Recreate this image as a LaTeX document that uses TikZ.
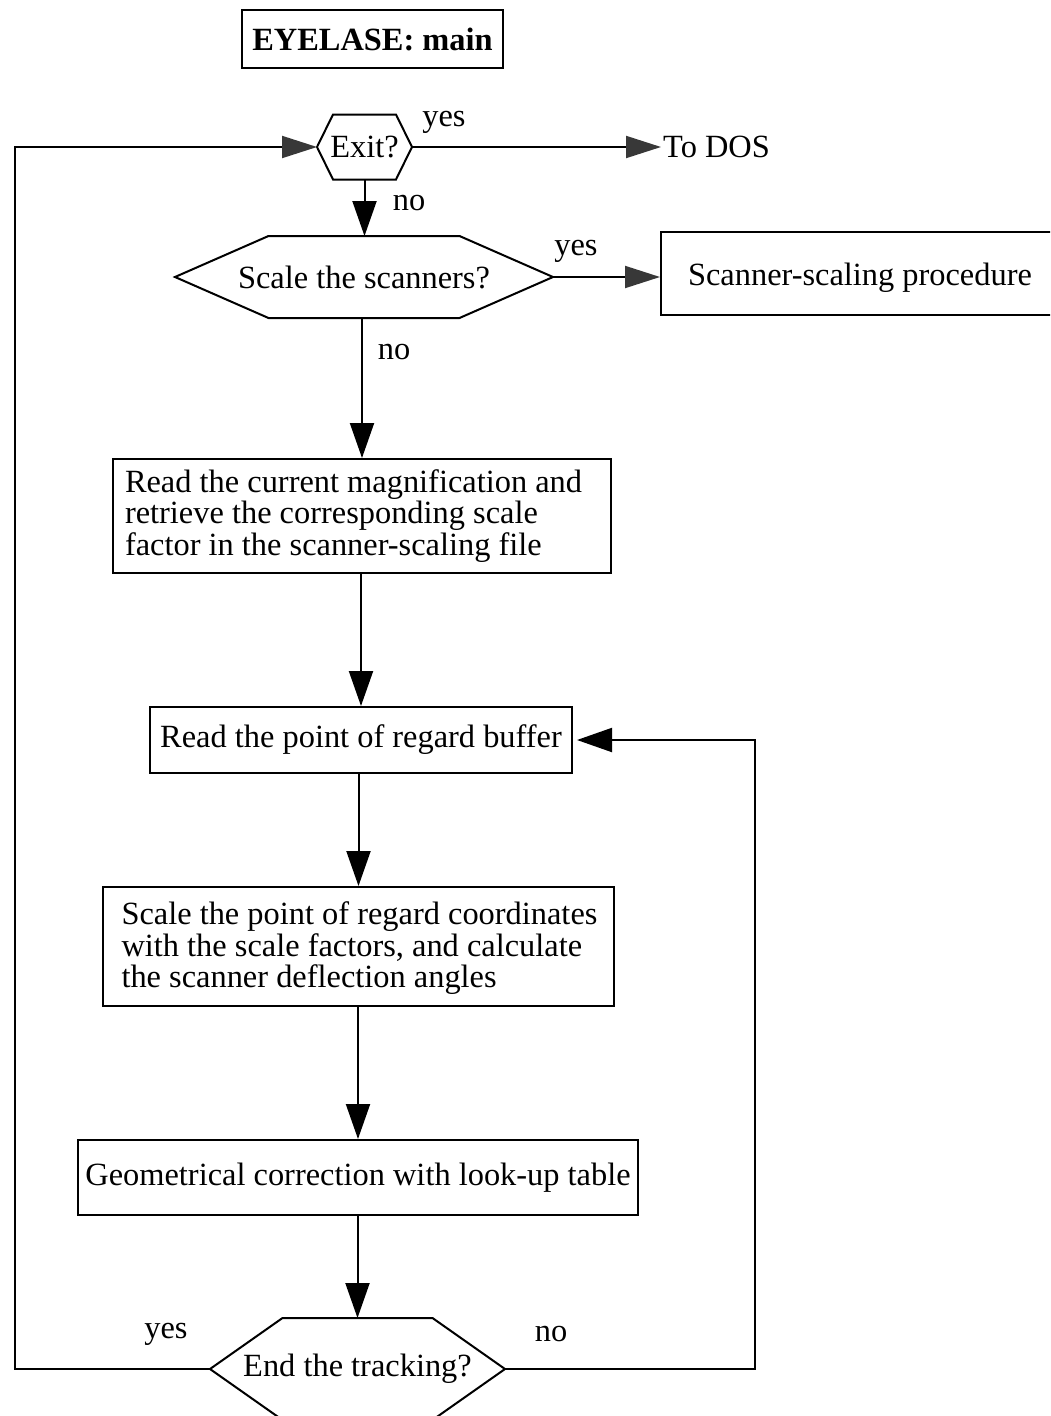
\documentclass[tikz,border=0pt]{standalone}
\usepackage{fontspec}
\setmainfont{Liberation Serif}
\usetikzlibrary{arrows.meta,calc}

% hexagonal decision node: name, centre x, centre y, half width to tip,
% half length of top edge, half height, text
\newcommand\decisionhex[7]{%
  \node[txt] (#1) at (#2,#3) {#7};
  \coordinate (#1-W) at ({#2-#4},#3);
  \coordinate (#1-E) at ({#2+#4},#3);
  \coordinate (#1-N) at (#2,{#3-#6});
  \coordinate (#1-S) at (#2,{#3+#6});
  \draw[line]
    (#1-W) -- ({#2-#5},{#3-#6}) -- ({#2+#5},{#3-#6}) -- (#1-E)
    -- ({#2+#5},{#3+#6}) -- ({#2-#5},{#3+#6}) -- cycle;
}

\begin{document}
\begin{tikzpicture}[
    x=1pt, y=-1pt,
    every node/.style={font=\fontsize{32.4}{31.5}\selectfont},
    line/.style={line width=2pt, line join=miter},
    txt/.style={inner sep=0pt},
    box/.style={draw, line width=2pt, inner sep=0pt},
    arr/.style={line width=2pt, -{Triangle[length=35pt, width=24pt]}},
    arrgrey/.style={line width=2pt, -{Triangle[length=35pt, width=22pt, color=black!78]}},
    lbl/.style={inner sep=0pt},
  ]
  \useasboundingbox (0,0) rectangle (1050,1416);
  \clip (0,0) rectangle (1050,1416);

  % title
  \node[box, minimum width=261, minimum height=58,
        font=\fontsize{32.4}{31.5}\selectfont\bfseries] (title) at (372.5,39) {EYELASE: main};

  % decisions
  \decisionhex{exit}{364.5}{147}{47.5}{31.5}{32.5}{Exit?}
  \decisionhex{scale}{364}{277}{189}{95.5}{41}{Scale the scanners?}
  \decisionhex{endq}{357.5}{1369}{147.5}{75}{51}{End the tracking?}

  % outcomes and processing steps
  \node[txt, anchor=west, inner sep=2pt] (dos) at (661,147) {To DOS};
  \node[box, minimum width=398, minimum height=83] (scanner) at (860,273.5)
    {\raisebox{-4pt}[\height][\depth]{Scanner-scaling procedure}};
  \node[box, minimum height=114, text width=474, inner xsep=12pt, align=flush left]
    (read) at (362,516)
    {Read the current magnification and\\
     retrieve the corresponding scale\\
     factor in the scanner-scaling file};
  \node[box, minimum width=422, minimum height=66] (por) at (361,740)
    {Read the point of regard buffer};
  \node[box, minimum width=511, minimum height=119, align=flush left]
    (scl) at (358.5,946.5)
    {\raisebox{-3pt}[\height][\depth]{\hspace{2pt}\begin{tabular}{@{}l@{}}%
       Scale the point of regard coordinates\\[-0.5pt]
       with the scale factors, and calculate\\[-0.5pt]
       the scanner deflection angles\end{tabular}}};
  \node[box, minimum width=560, minimum height=75] (geom) at (358,1177.5)
    {Geometrical correction with look-up table};

  % connectors
  \draw[arrgrey] (exit-E) -- (dos.west);
  \draw[arr] (exit-S) -- (exit-S |- scale-N);
  \draw[arrgrey] (scale-E) -- (scale-E -| scanner.west);
  \draw[arr] (read.north |- scale-S) -- (read.north);
  \draw[arr] (por.north |- read.south) -- (por.north);
  \draw[arr] (scl.north |- por.south) -- (scl.north);
  \draw[arr] (geom.north |- scl.south) -- (geom.north);
  \draw[arr] (endq-N |- geom.south) -- (endq-N);
  \draw[arrgrey] (endq-W) -- ++(-195,0) |- (exit-W);
  \draw[arr] (endq-E) -- ++(250,0) |- ([xshift=4pt]por.east);

  % branch labels
  \node[lbl] (yes1) at (444,122) {yes};
  \node[lbl] (no1) at (409,203) {no};
  \node[lbl] (yes2) at (576,251) {yes};
  \node[lbl] (no2) at (394,352) {no};
  \node[lbl] (yes3) at (166,1334) {yes};
  \node[lbl] (no3) at (551,1334) {no};
\end{tikzpicture}
\end{document}
